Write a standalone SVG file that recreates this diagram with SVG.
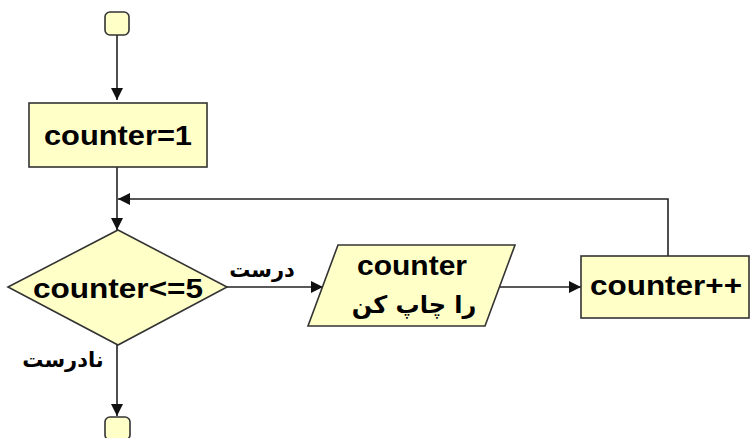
<svg xmlns="http://www.w3.org/2000/svg" width="751" height="438" viewBox="0 0 751 438">
  <style>
    .shape { fill: #FFFFC8; stroke: #333333; stroke-width: 1.6; }
    .edge { fill: none; stroke: #222222; stroke-width: 1.6; }
    .lbl { font-family: "Liberation Sans", Arial, sans-serif; font-weight: bold; font-size: 28px; fill: #000; text-anchor: middle; }
    .fa { font-family: "DejaVu Sans", sans-serif; font-weight: bold; font-size: 21px; fill: #000; text-anchor: middle; direction: rtl; }
  </style>
  <defs>
    <marker id="arrow" viewBox="0 0 12 12" refX="12" refY="6" markerWidth="12" markerHeight="12" markerUnits="userSpaceOnUse" orient="auto">
      <path d="M0,0 L12,6 L0,12 Z" fill="#111"/>
    </marker>
  </defs>

  <rect width="751" height="438" fill="#FFFFFF"/>

  <g id="connectors">
    <path class="edge" d="M117,35 V100" marker-end="url(#arrow)"/>
    <path class="edge" d="M117,167 V230" marker-end="url(#arrow)"/>
    <path class="edge" d="M668,256 V199 H118" marker-end="url(#arrow)"/>
    <path class="edge" d="M227,287 H323" marker-end="url(#arrow)"/>
    <path class="edge" d="M499,287 H581" marker-end="url(#arrow)"/>
    <path class="edge" d="M117,345 V416" marker-end="url(#arrow)"/>
    <text class="fa" x="262" y="277">درست</text>
    <text class="fa" x="63" y="367">نادرست</text>
  </g>

  <g id="start">
    <rect class="shape" x="105" y="12" width="24" height="23" rx="5"/>
  </g>

  <g id="init">
    <rect class="shape" x="29" y="103" width="178" height="64"/>
    <text class="lbl" x="118" y="145" textLength="148" lengthAdjust="spacingAndGlyphs">counter=1</text>
  </g>

  <g id="condition">
    <polygon class="shape" points="118,230 227,287 118,345 8,287"/>
    <text class="lbl" x="118" y="298" textLength="170" lengthAdjust="spacingAndGlyphs">counter&lt;=5</text>
  </g>

  <g id="print">
    <polygon class="shape" points="338,245 515,245 485,326 308,326"/>
    <text class="lbl" x="412" y="275" textLength="110" lengthAdjust="spacingAndGlyphs">counter</text>
    <text class="fa" x="414" y="313" style="font-size:24px">را چاپ کن</text>
  </g>

  <g id="increment">
    <rect class="shape" x="581" y="256" width="168" height="62"/>
    <text class="lbl" x="666" y="295" textLength="152" lengthAdjust="spacingAndGlyphs">counter++</text>
  </g>

  <g id="end">
    <rect class="shape" x="105" y="417" width="25" height="23" rx="5"/>
  </g>
</svg>
